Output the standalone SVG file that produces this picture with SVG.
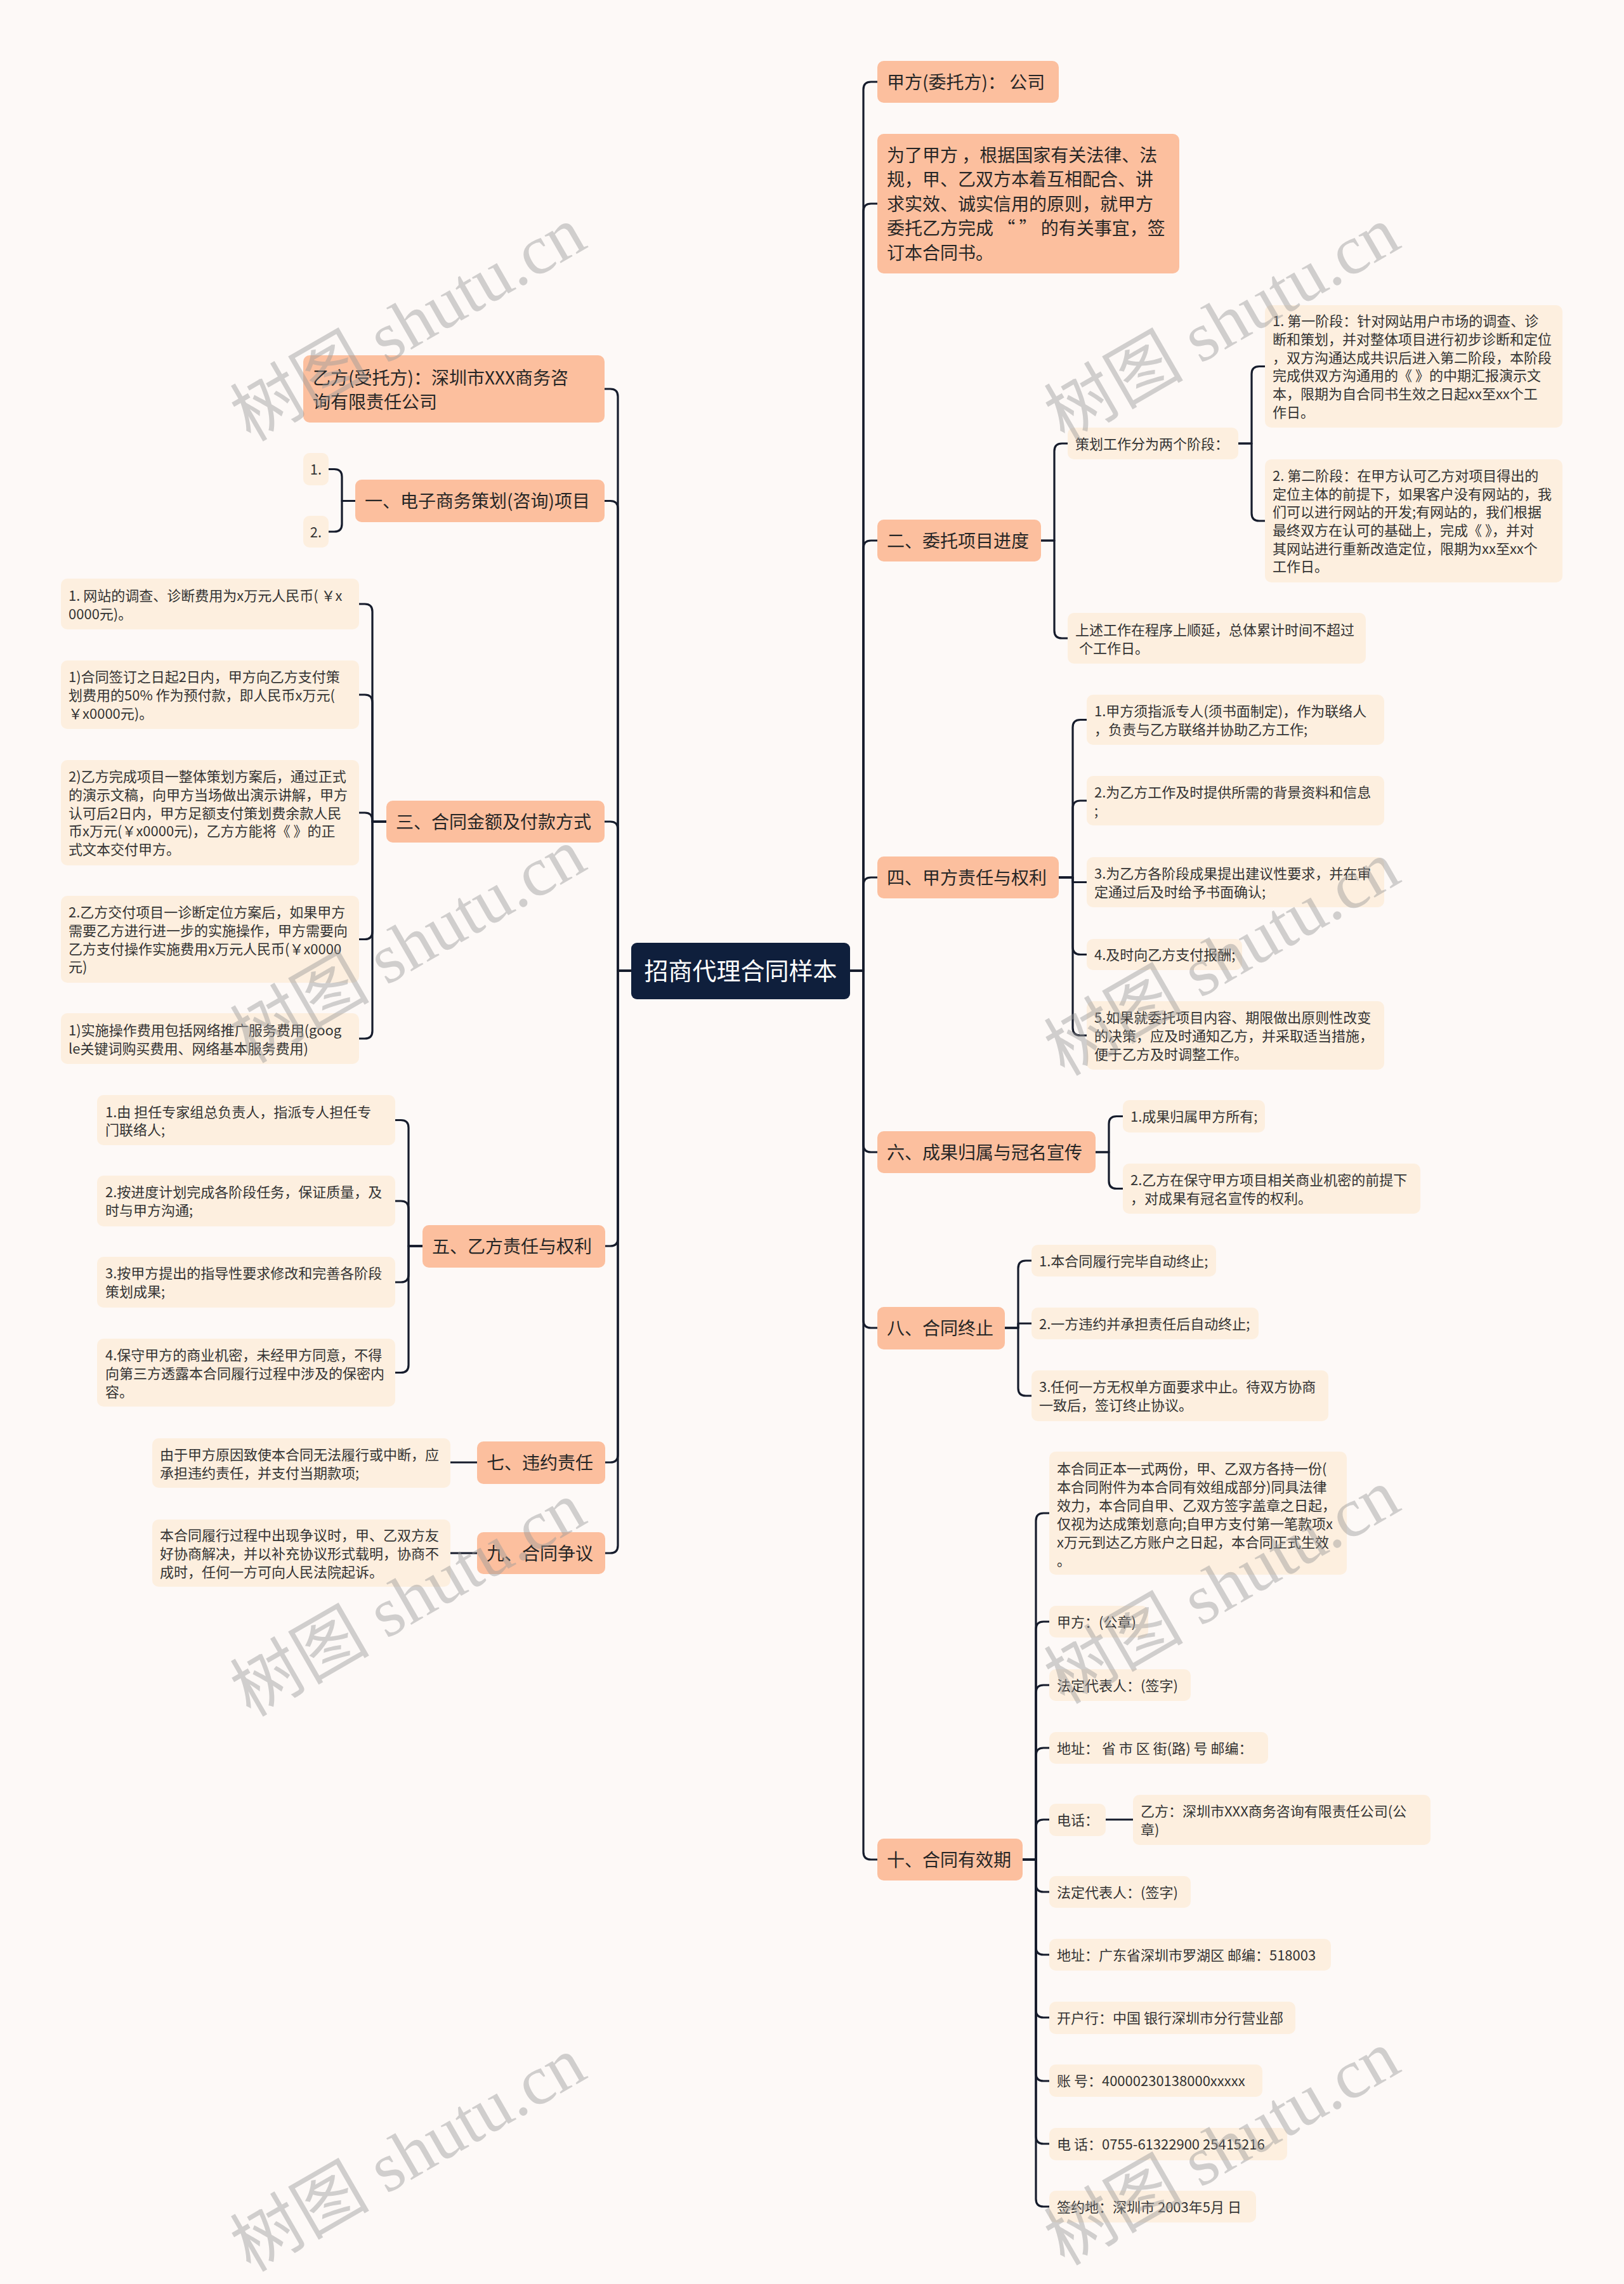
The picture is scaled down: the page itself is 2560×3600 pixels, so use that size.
<svg xmlns="http://www.w3.org/2000/svg" width="2560" height="3600" viewBox="0 0 2560 3600">
<defs>
<style>
.bg{fill:#fdf9f7}
.root{fill:#0f1f3c}
.n1{fill:#fcbf9e}
.n2{fill:#fdefdf}
text{font-family:"Noto Sans CJK SC","Liberation Sans",sans-serif}
.tr{font-size:38px;fill:#ffffff}
.t1{font-size:28px;fill:#262626}
.t2{font-size:22px;fill:#333333}
.conn path{fill:none;stroke:#161c2c;stroke-width:3.2;stroke-linecap:round;stroke-linejoin:round}
.wm{font-family:"Liberation Serif","Noto Sans CJK SC",serif;font-size:110px;fill:#9a9a9a;fill-opacity:0.45}
</style>
</defs>
<rect class="bg" x="0" y="0" width="2560" height="3600"/>

<g id="connectors" class="conn">
<path d="M1340,1530 H1361 V141 Q1361,129 1373,129 H1383"/>
<path d="M1340,1530 H1361 V333 Q1361,321 1373,321 H1383"/>
<path d="M1340,1530 H1361 V864 Q1361,852 1373,852 H1383"/>
<path d="M1340,1530 H1361 V1395 Q1361,1383 1373,1383 H1383"/>
<path d="M1340,1530 H1361 V1804 Q1361,1816 1373,1816 H1383"/>
<path d="M1340,1530 H1361 V2081 Q1361,2093 1373,2093 H1383"/>
<path d="M1340,1530 H1361 V2919 Q1361,2931 1373,2931 H1383"/>
<path d="M995,1530 H974 V625 Q974,613 962,613 H953"/>
<path d="M995,1530 H974 V801.5 Q974,789.5 962,789.5 H953"/>
<path d="M995,1530 H974 V1307 Q974,1295 962,1295 H953"/>
<path d="M995,1530 H974 V1952 Q974,1964 962,1964 H953"/>
<path d="M995,1530 H974 V2293 Q974,2305 962,2305 H953"/>
<path d="M995,1530 H974 V2436 Q974,2448 962,2448 H953"/>
<path d="M1641,852 H1662 V711 Q1662,699 1674,699 H1683"/>
<path d="M1641,852 H1662 V994 Q1662,1006 1674,1006 H1683"/>
<path d="M1952,699 H1973 V589.5 Q1973,577.5 1985,577.5 H1994"/>
<path d="M1952,699 H1973 V809 Q1973,821 1985,821 H1994"/>
<path d="M1669,1383 H1691 V1146.5 Q1691,1134.5 1703,1134.5 H1713"/>
<path d="M1669,1383 H1691 V1274 Q1691,1262 1703,1262 H1713"/>
<path d="M1669,1383 H1691 V1390.5 H1713"/>
<path d="M1669,1383 H1691 V1492.5 Q1691,1504.5 1703,1504.5 H1713"/>
<path d="M1669,1383 H1691 V1620 Q1691,1632 1703,1632 H1713"/>
<path d="M1727,1816 H1748 V1771.5 Q1748,1759.5 1760,1759.5 H1770"/>
<path d="M1727,1816 H1748 V1861.5 Q1748,1873.5 1760,1873.5 H1770"/>
<path d="M1584,2093 H1605 V1999 Q1605,1987 1617,1987 H1626"/>
<path d="M1584,2093 H1605 V2086 H1626"/>
<path d="M1584,2093 H1605 V2188 Q1605,2200 1617,2200 H1626"/>
<path d="M1612,2931 H1633 V2397 Q1633,2385 1645,2385 H1654"/>
<path d="M1612,2931 H1633 V2568 Q1633,2556 1645,2556 H1654"/>
<path d="M1612,2931 H1633 V2668 Q1633,2656 1645,2656 H1654"/>
<path d="M1612,2931 H1633 V2767 Q1633,2755 1645,2755 H1654"/>
<path d="M1612,2931 H1633 V2880 Q1633,2868 1645,2868 H1654"/>
<path d="M1612,2931 H1633 V2970 Q1633,2982 1645,2982 H1654"/>
<path d="M1612,2931 H1633 V3069 Q1633,3081 1645,3081 H1654"/>
<path d="M1612,2931 H1633 V3168 Q1633,3180 1645,3180 H1654"/>
<path d="M1612,2931 H1633 V3268 Q1633,3280 1645,3280 H1654"/>
<path d="M1612,2931 H1633 V3367 Q1633,3379 1645,3379 H1654"/>
<path d="M1612,2931 H1633 V3466 Q1633,3478 1645,3478 H1654"/>
<path d="M1743,2868 H1786"/>
<path d="M560,789.5 H539 V751.5 Q539,739.5 527,739.5 H518"/>
<path d="M560,789.5 H539 V826 Q539,838 527,838 H518"/>
<path d="M609,1295 H587 V964 Q587,952 575,952 H566"/>
<path d="M609,1295 H587 V1107 Q587,1095 575,1095 H566"/>
<path d="M609,1295 H587 V1293 Q587,1281 575,1281 H566"/>
<path d="M609,1295 H587 V1468.5 Q587,1480.5 575,1480.5 H566"/>
<path d="M609,1295 H587 V1625 Q587,1637 575,1637 H566"/>
<path d="M666,1964 H644 V1777.5 Q644,1765.5 632,1765.5 H623"/>
<path d="M666,1964 H644 V1905 Q644,1893 632,1893 H623"/>
<path d="M666,1964 H644 V2009 Q644,2021 632,2021 H623"/>
<path d="M666,1964 H644 V2151.5 Q644,2163.5 632,2163.5 H623"/>
<path d="M752,2305 H710"/>
<path d="M752,2448 H710"/>
</g>

<g id="root">
<rect class="root" x="995" y="1486" width="345" height="89" rx="9"/>
<text class="tr" x="1167.5" y="1544" text-anchor="middle">招商代理合同样本</text>
</g>

<!-- right side -->
<g id="r1">
<rect class="n1" x="1383" y="96" width="286" height="66" rx="10"/>
<text class="t1" x="1398" y="139.5">甲方(委托方)： 公司</text>
</g>
<g id="r2">
<rect class="n1" x="1383" y="211" width="476" height="220" rx="10"/>
<text class="t1"><tspan x="1398" y="254.5">为了甲方 ，根据国家有关法律、法</tspan><tspan x="1398" y="293">规，甲、乙双方本着互相配合、讲</tspan><tspan x="1398" y="331.5">求实效、诚实信用的原则，就甲方</tspan><tspan x="1398" y="370">委托乙方完成 “ ” 的有关事宜，签</tspan><tspan x="1398" y="408.5">订本合同书。</tspan></text>
</g>
<g id="r3">
<rect class="n1" x="1383" y="819" width="258" height="66" rx="10"/>
<text class="t1" x="1398" y="862.5">二、委托项目进度</text>
</g>
<g id="r3a">
<rect class="n2" x="1683" y="674" width="269" height="50" rx="10"/>
<text class="t2" x="1695" y="707.5">策划工作分为两个阶段：</text>
</g>
<g id="r3a1">
<rect class="n2" x="1994" y="481" width="469" height="193" rx="10"/>
<text class="t2"><tspan x="2006" y="514">1. 第一阶段：针对网站用户市场的调查、诊</tspan><tspan x="2006" y="543">断和策划，并对整体项目进行初步诊断和定位</tspan><tspan x="2006" y="571.5">，双方沟通达成共识后进入第二阶段，本阶段</tspan><tspan x="2006" y="600">完成供双方沟通用的《 》的中期汇报演示文</tspan><tspan x="2006" y="629">本，限期为自合同书生效之日起xx至xx个工</tspan><tspan x="2006" y="657.5">作日。</tspan></text>
</g>
<g id="r3a2">
<rect class="n2" x="1994" y="724" width="469" height="194" rx="10"/>
<text class="t2"><tspan x="2006" y="757.5">2. 第二阶段：在甲方认可乙方对项目得出的</tspan><tspan x="2006" y="786.5">定位主体的前提下，如果客户没有网站的，我</tspan><tspan x="2006" y="815">们可以进行网站的开发;有网站的，我们根据</tspan><tspan x="2006" y="844">最终双方在认可的基础上，完成《 》，并对</tspan><tspan x="2006" y="872.5">其网站进行重新改造定位，限期为xx至xx个</tspan><tspan x="2006" y="901">工作日。</tspan></text>
</g>
<g id="r3b">
<rect class="n2" x="1683" y="966" width="470" height="80" rx="10"/>
<text class="t2"><tspan x="1695" y="1000.5">上述工作在程序上顺延，总体累计时间不超过</tspan><tspan x="1701" y="1029.5">个工作日。</tspan></text>
</g>

<g id="r4">
<rect class="n1" x="1383" y="1350" width="286" height="66" rx="10"/>
<text class="t1" x="1398" y="1393.5">四、甲方责任与权利</text>
</g>
<g id="r4c1">
<rect class="n2" x="1713" y="1095" width="469" height="79" rx="10"/>
<text class="t2"><tspan x="1725" y="1128.5">1.甲方须指派专人(须书面制定)，作为联络人</tspan><tspan x="1725" y="1157.5">，负责与乙方联络并协助乙方工作;</tspan></text>
</g>
<g id="r4c2">
<rect class="n2" x="1713" y="1223" width="469" height="78" rx="10"/>
<text class="t2"><tspan x="1725" y="1256.5">2.为乙方工作及时提供所需的背景资料和信息</tspan><tspan x="1725" y="1285.5">;</tspan></text>
</g>
<g id="r4c3">
<rect class="n2" x="1713" y="1351" width="469" height="79" rx="10"/>
<text class="t2"><tspan x="1725" y="1384.5">3.为乙方各阶段成果提出建议性要求，并在审</tspan><tspan x="1725" y="1413.5">定通过后及时给予书面确认;</tspan></text>
</g>
<g id="r4c4">
<rect class="n2" x="1713" y="1480" width="245" height="49" rx="10"/>
<text class="t2" x="1725" y="1513">4.及时向乙方支付报酬;</text>
</g>
<g id="r4c5">
<rect class="n2" x="1713" y="1578" width="469" height="108" rx="10"/>
<text class="t2"><tspan x="1725" y="1611.5">5.如果就委托项目内容、期限做出原则性改变</tspan><tspan x="1725" y="1640.5">的决策，应及时通知乙方，并采取适当措施，</tspan><tspan x="1725" y="1669.5">便于乙方及时调整工作。</tspan></text>
</g>

<g id="r6">
<rect class="n1" x="1383" y="1783" width="344" height="66" rx="10"/>
<text class="t1" x="1398" y="1826.5">六、成果归属与冠名宣传</text>
</g>
<g id="r6c1">
<rect class="n2" x="1770" y="1734" width="224" height="51" rx="10"/>
<text class="t2" x="1782" y="1768">1.成果归属甲方所有;</text>
</g>
<g id="r6c2">
<rect class="n2" x="1770" y="1834" width="469" height="79" rx="10"/>
<text class="t2"><tspan x="1782" y="1867.5">2.乙方在保守甲方项目相关商业机密的前提下</tspan><tspan x="1782" y="1896.5">，对成果有冠名宣传的权利。</tspan></text>
</g>

<g id="r8">
<rect class="n1" x="1383" y="2060" width="201" height="67" rx="10"/>
<text class="t1" x="1398" y="2103.5">八、合同终止</text>
</g>
<g id="r8c1">
<rect class="n2" x="1626" y="1962" width="291" height="50" rx="10"/>
<text class="t2" x="1638" y="1995.5">1.本合同履行完毕自动终止;</text>
</g>
<g id="r8c2">
<rect class="n2" x="1626" y="2061" width="358" height="50" rx="10"/>
<text class="t2" x="1638" y="2094.5">2.一方违约并承担责任后自动终止;</text>
</g>
<g id="r8c3">
<rect class="n2" x="1626" y="2160" width="468" height="80" rx="10"/>
<text class="t2"><tspan x="1638" y="2194">3.任何一方无权单方面要求中止。待双方协商</tspan><tspan x="1638" y="2223">一致后，签订终止协议。</tspan></text>
</g>

<g id="r10">
<rect class="n1" x="1383" y="2898" width="229" height="66" rx="10"/>
<text class="t1" x="1398" y="2941.5">十、合同有效期</text>
</g>
<g id="r10c1">
<rect class="n2" x="1654" y="2288" width="469" height="194" rx="10"/>
<text class="t2"><tspan x="1666" y="2322.5">本合同正本一式两份，甲、乙双方各持一份(</tspan><tspan x="1666" y="2351.5">本合同附件为本合同有效组成部分)同具法律</tspan><tspan x="1666" y="2380.5">效力，本合同自甲、乙双方签字盖章之日起，</tspan><tspan x="1666" y="2409.5">仅视为达成策划意向;自甲方支付第一笔款项x</tspan><tspan x="1666" y="2438.5">x万元到达乙方账户之日起，本合同正式生效</tspan><tspan x="1666" y="2467.5">。</tspan></text>
</g>
<g id="r10c2">
<rect class="n2" x="1654" y="2531" width="156" height="50" rx="10"/>
<text class="t2" x="1666" y="2564.5">甲方：(公章)</text>
</g>
<g id="r10c3">
<rect class="n2" x="1654" y="2631" width="223" height="50" rx="10"/>
<text class="t2" x="1666" y="2664.5">法定代表人：(签字)</text>
</g>
<g id="r10c4">
<rect class="n2" x="1654" y="2730" width="345" height="50" rx="10"/>
<text class="t2" x="1666" y="2763.5" xml:space="preserve">地址： 省 市 区 街(路) 号 邮编：</text>
</g>
<g id="r10c5">
<rect class="n2" x="1654" y="2843" width="89" height="51" rx="10"/>
<text class="t2" x="1666" y="2876.5">电话：</text>
</g>
<g id="r10c5a">
<rect class="n2" x="1786" y="2829" width="469" height="79" rx="10"/>
<text class="t2"><tspan x="1798" y="2862.5">乙方：深圳市XXX商务咨询有限责任公司(公</tspan><tspan x="1798" y="2891.5">章)</tspan></text>
</g>
<g id="r10c6">
<rect class="n2" x="1654" y="2957" width="223" height="50" rx="10"/>
<text class="t2" x="1666" y="2990.5">法定代表人：(签字)</text>
</g>
<g id="r10c7">
<rect class="n2" x="1654" y="3056" width="444" height="50" rx="10"/>
<text class="t2" x="1666" y="3089.5">地址：广东省深圳市罗湖区 邮编：518003</text>
</g>
<g id="r10c8">
<rect class="n2" x="1654" y="3155" width="388" height="51" rx="10"/>
<text class="t2" x="1666" y="3188.5">开户行：中国 银行深圳市分行营业部</text>
</g>
<g id="r10c9">
<rect class="n2" x="1654" y="3254" width="336" height="51" rx="10"/>
<text class="t2" x="1666" y="3288">账 号：40000230138000xxxxx</text>
</g>
<g id="r10c10">
<rect class="n2" x="1654" y="3354" width="375" height="51" rx="10"/>
<text class="t2" x="1666" y="3387.5">电 话：0755-61322900 25415216</text>
</g>
<g id="r10c11">
<rect class="n2" x="1654" y="3453" width="326" height="50" rx="10"/>
<text class="t2" x="1666" y="3486.5">签约地：深圳市 2003年5月 日</text>
</g>

<!-- left side -->
<g id="l1">
<rect class="n1" x="478" y="560" width="475" height="106" rx="10"/>
<text class="t1"><tspan x="493" y="605.5">乙方(受托方)：深圳市XXX商务咨</tspan><tspan x="493" y="643.5">询有限责任公司</tspan></text>
</g>
<g id="l2">
<rect class="n1" x="560" y="756" width="393" height="67" rx="10"/>
<text class="t1" x="575" y="800">一、电子商务策划(咨询)项目</text>
</g>
<g id="l2c1">
<rect class="n2" x="478" y="714" width="40" height="51" rx="10"/>
<text class="t2" x="498" y="748" text-anchor="middle">1.</text>
</g>
<g id="l2c2">
<rect class="n2" x="478" y="813" width="40" height="50" rx="10"/>
<text class="t2" x="498" y="846.5" text-anchor="middle">2.</text>
</g>

<g id="l3">
<rect class="n1" x="609" y="1262" width="344" height="66" rx="10"/>
<text class="t1" x="624" y="1305.5">三、合同金额及付款方式</text>
</g>
<g id="l3c1">
<rect class="n2" x="96" y="912" width="470" height="80" rx="10"/>
<text class="t2"><tspan x="108" y="946.5">1. 网站的调查、诊断费用为x万元人民币( ￥x</tspan><tspan x="108" y="975.5">0000元)。</tspan></text>
</g>
<g id="l3c2">
<rect class="n2" x="96" y="1041" width="470" height="108" rx="10"/>
<text class="t2"><tspan x="108" y="1074.5">1)合同签订之日起2日内，甲方向乙方支付策</tspan><tspan x="108" y="1103.5">划费用的50% 作为预付款，即人民币x万元(</tspan><tspan x="108" y="1132.5">￥x0000元)。</tspan></text>
</g>
<g id="l3c3">
<rect class="n2" x="96" y="1198" width="470" height="166" rx="10"/>
<text class="t2"><tspan x="108" y="1232">2)乙方完成项目一整体策划方案后，通过正式</tspan><tspan x="108" y="1260.5">的演示文稿，向甲方当场做出演示讲解，甲方</tspan><tspan x="108" y="1289.5">认可后2日内，甲方足额支付策划费余款人民</tspan><tspan x="108" y="1318">币x万元(￥x0000元)，乙方方能将《 》的正</tspan><tspan x="108" y="1347">式文本交付甲方。</tspan></text>
</g>
<g id="l3c4">
<rect class="n2" x="96" y="1412" width="470" height="137" rx="10"/>
<text class="t2"><tspan x="108" y="1446">2.乙方交付项目一诊断定位方案后，如果甲方</tspan><tspan x="108" y="1474.5">需要乙方进行进一步的实施操作，甲方需要向</tspan><tspan x="108" y="1503.5">乙方支付操作实施费用x万元人民币(￥x0000</tspan><tspan x="108" y="1532">元)</tspan></text>
</g>
<g id="l3c5">
<rect class="n2" x="96" y="1597" width="470" height="80" rx="10"/>
<text class="t2"><tspan x="108" y="1631.5">1)实施操作费用包括网络推广服务费用(goog</tspan><tspan x="108" y="1660.5">le关键词购买费用、网络基本服务费用)</tspan></text>
</g>

<g id="l5">
<rect class="n1" x="666" y="1931" width="288" height="67" rx="10"/>
<text class="t1" x="681" y="1975">五、乙方责任与权利</text>
</g>
<g id="l5c1">
<rect class="n2" x="153" y="1726" width="470" height="79" rx="10"/>
<text class="t2"><tspan x="166" y="1760.5">1.由 担任专家组总负责人，指派专人担任专</tspan><tspan x="166" y="1789">门联络人;</tspan></text>
</g>
<g id="l5c2">
<rect class="n2" x="153" y="1853" width="470" height="80" rx="10"/>
<text class="t2"><tspan x="166" y="1887">2.按进度计划完成各阶段任务，保证质量，及</tspan><tspan x="166" y="1916">时与甲方沟通;</tspan></text>
</g>
<g id="l5c3">
<rect class="n2" x="153" y="1981" width="470" height="80" rx="10"/>
<text class="t2"><tspan x="166" y="2015">3.按甲方提出的指导性要求修改和完善各阶段</tspan><tspan x="166" y="2044">策划成果;</tspan></text>
</g>
<g id="l5c4">
<rect class="n2" x="153" y="2110" width="470" height="107" rx="10"/>
<text class="t2"><tspan x="166" y="2144">4.保守甲方的商业机密，未经甲方同意，不得</tspan><tspan x="166" y="2173">向第三方透露本合同履行过程中涉及的保密内</tspan><tspan x="166" y="2201.5">容。</tspan></text>
</g>

<g id="l7">
<rect class="n1" x="752" y="2272" width="202" height="67" rx="10"/>
<text class="t1" x="767" y="2316">七、违约责任</text>
</g>
<g id="l7c1">
<rect class="n2" x="240" y="2267" width="470" height="78" rx="10"/>
<text class="t2"><tspan x="252" y="2300.5">由于甲方原因致使本合同无法履行或中断，应</tspan><tspan x="252" y="2329.5">承担违约责任，并支付当期款项;</tspan></text>
</g>
<g id="l9">
<rect class="n1" x="752" y="2415" width="202" height="66" rx="10"/>
<text class="t1" x="767" y="2458.5">九、合同争议</text>
</g>
<g id="l9c1">
<rect class="n2" x="240" y="2395" width="470" height="106" rx="10"/>
<text class="t2"><tspan x="252" y="2427.5">本合同履行过程中出现争议时，甲、乙双方友</tspan><tspan x="252" y="2456.5">好协商解决，并以补充协议形式载明，协商不</tspan><tspan x="252" y="2485.5">成时，任何一方可向人民法院起诉。</tspan></text>
</g>

<g id="watermarks">
<text class="wm" x="643" y="548" text-anchor="middle" transform="rotate(-30 643 510)">树图 shutu.cn</text>
<text class="wm" x="1926" y="548" text-anchor="middle" transform="rotate(-30 1926 510)">树图 shutu.cn</text>
<text class="wm" x="643" y="1528" text-anchor="middle" transform="rotate(-30 643 1490)">树图 shutu.cn</text>
<text class="wm" x="1926" y="1548" text-anchor="middle" transform="rotate(-30 1926 1510)">树图 shutu.cn</text>
<text class="wm" x="643" y="2558" text-anchor="middle" transform="rotate(-30 643 2520)">树图 shutu.cn</text>
<text class="wm" x="1926" y="2538" text-anchor="middle" transform="rotate(-30 1926 2500)">树图 shutu.cn</text>
<text class="wm" x="643" y="3433" text-anchor="middle" transform="rotate(-30 643 3395)">树图 shutu.cn</text>
<text class="wm" x="1926" y="3423" text-anchor="middle" transform="rotate(-30 1926 3385)">树图 shutu.cn</text>
</g>
</svg>
